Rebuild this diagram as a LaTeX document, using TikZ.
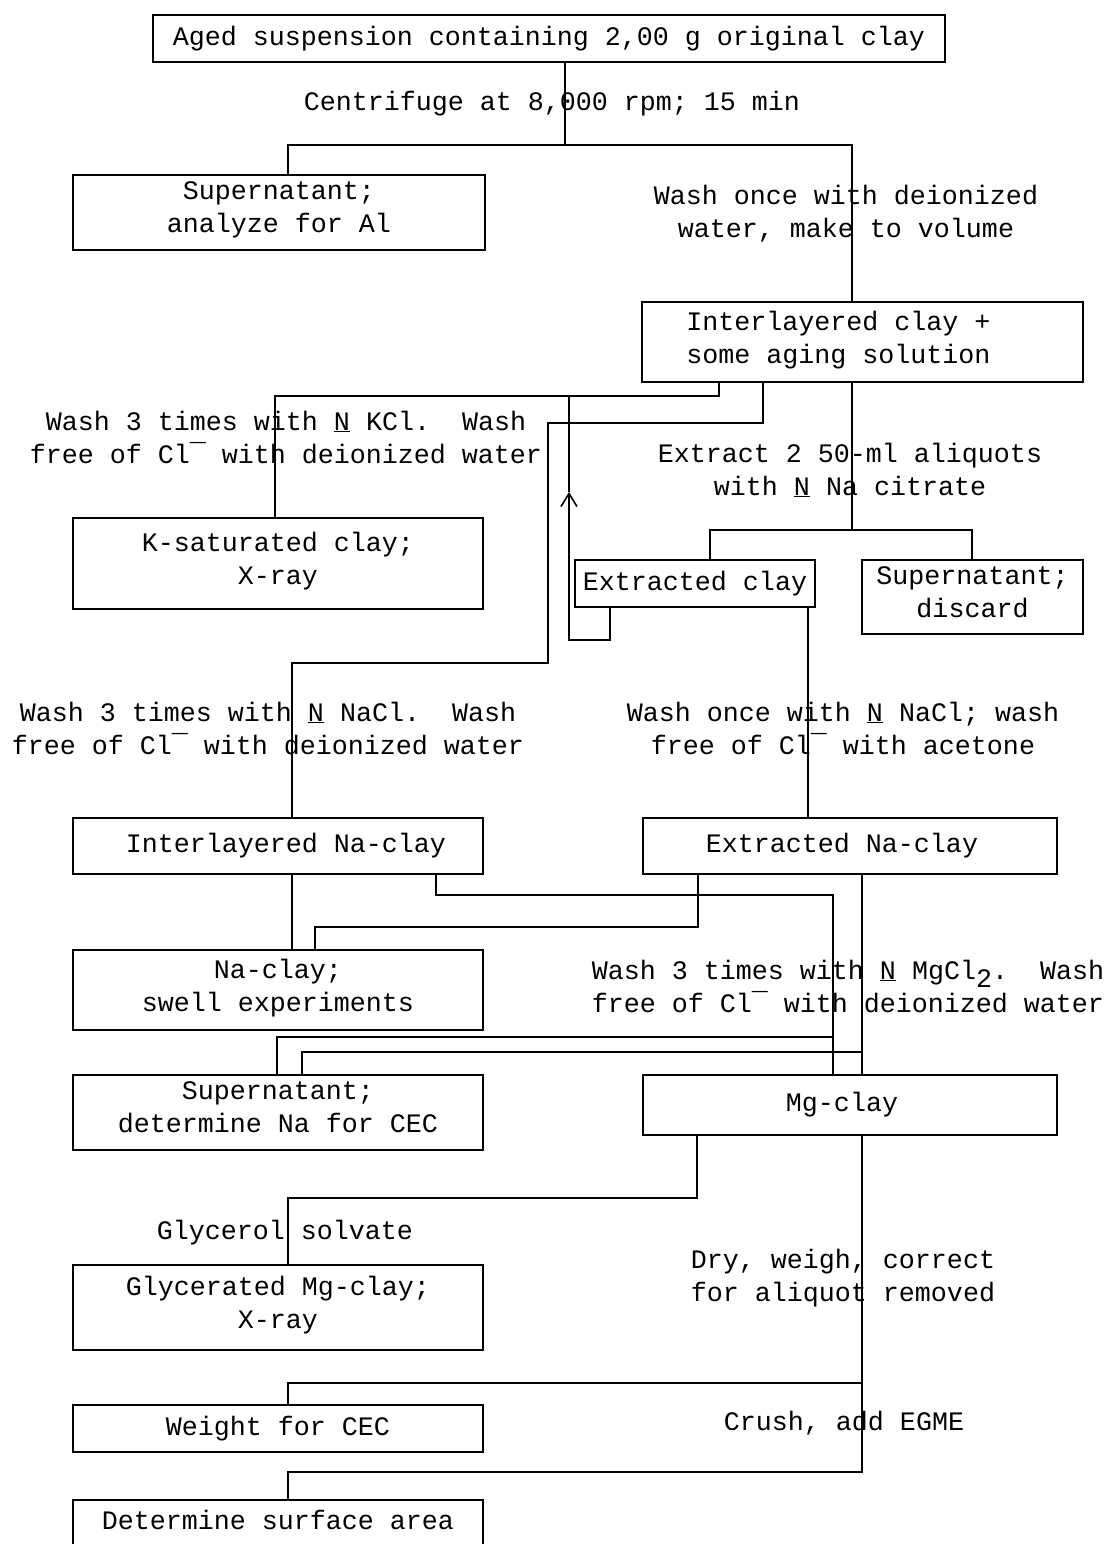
\documentclass[tikz,border=0pt]{standalone}
\usepackage{fontspec}
\newfontfamily\tw{Liberation Mono}
\usetikzlibrary{arrows.meta}
\tikzset{
  tfont/.style={font=\tw\fontsize{26.67pt}{33pt}\selectfont\frenchspacing},
  lbl/.style={tfont, inner sep=0pt, align=center,
    execute at begin node=\strut, execute at end node=\strut},
  bx/.style n args={2}{lbl, draw, line width=1.6pt,
    minimum width=#1pt, minimum height=#2pt},
  link/.style={line width=1.6pt},
}
\begin{document}
\begin{tikzpicture}[x=1pt,y=-1pt]
\useasboundingbox (0,0) rectangle (1113,1544);
\fill[white] (0,0) rectangle (1113,1544);
\clip (0,0) rectangle (1113,1544);

% boxes and labels
\node[bx={792}{47}] (b1) at (549,38.5) {Aged suspension containing 2,00 g original clay};
\node[lbl] (l1) at (552,104) {Centrifuge at 8,000 rpm; 15 min};
\node[bx={412}{75}] (b2) at (279,212.5) {Supernatant;\\analyze for Al};
\node[lbl] (l2) at (846,216) {Wash once with deionized\\water, make to volume};
\node[bx={441}{80}] (b3) at (862.5,342) {Interlayered clay +\hphantom{xxx}\\some aging solution\hphantom{xxx}};
\node[lbl] (l3) at (286,442) {Wash 3 times with \underline{N} KCl.~~Wash\\free of Cl¯ with deionized water};
\node[bx={410}{91}] (ks) at (278,563.5) {K-saturated clay;\\X-ray};
\node[lbl] (l4) at (850,474) {Extract 2 50-ml aliquots\\with \underline{N} Na citrate};
\node[bx={240}{47}] (ec) at (695,583.5) {Extracted clay};
\node[bx={221}{74}] (sd) at (972.5,597) {Supernatant;\\discard};
\node[lbl] (l5) at (268,733) {Wash 3 times with \underline{N} NaCl.~~Wash\\free of Cl¯ with deionized water};
\node[lbl] (l6) at (843,733) {Wash once with \underline{N} NaCl; wash\\free of Cl¯ with acetone};
\node[bx={410}{56}] (ina) at (278,846) {\hphantom{x}Interlayered Na-clay};
\node[bx={414}{56}] (ena) at (850,846) {Extracted Na-clay\hphantom{x}};
\node[bx={410}{80}] (nac) at (278,990) {Na-clay;\\swell experiments};
\node[lbl] (l7) at (848,991) {Wash 3 times with \underline{N} MgCl\raisebox{-8pt}{2}.~~Wash\\free of Cl¯ with deionized water};
\node[bx={410}{75}] (sna) at (278,1112.5) {Supernatant;\\determine Na for CEC};
\node[bx={414}{60}] (mg) at (850,1105) {Mg-clay\hphantom{x}};
\node[lbl] (l9) at (285,1233) {Glycerol solvate};
\node[lbl] (l8) at (843,1280) {Dry, weigh, correct\\for aliquot removed};
\node[bx={410}{85}] (gly) at (278,1307.5) {Glycerated Mg-clay;\\X-ray};
\node[bx={410}{47}] (wc) at (278,1428.5) {Weight for CEC};
\node[lbl] (l10) at (844,1424) {Crush, add EGME};
\node[bx={410}{46}] (ds) at (278,1523) {Determine surface area};

% junction points on lines
\coordinate (t1) at (833,1037);
\coordinate (t2) at (862,1052);
\coordinate (t3) at (862,1383);
\coordinate (t4) at (569,396);
\coordinate (tip) at (569,492);

% connectors
\draw[link] (565,0 |- b1.south) -- (565,145);
\draw[link] (288,0 |- b2.north) |- (852,145) -- (852,0 |- b3.north);
\draw[link] (719,0 |- b3.south) |- (275,396) -- (275,0 |- ks.north);
\draw[link] (763,0 |- b3.south) |- (548,423) -- (548,663) -| (292,0 |- ina.north);
\draw[link,-{Straight Barb[length=13pt,width=16pt]}] (610,0 |- ec.south) |- (569,640) -- (tip);
\draw[link] (tip) -- (t4);
\draw[link] (852,0 |- b3.south) -- (852,530);
\draw[link] (710,0 |- ec.north) |- (972,530) -- (972,0 |- sd.north);
\draw[link] (808,0 |- ec.south) -- (808,0 |- ena.north);
\draw[link] (292,0 |- ina.south) -- (292,0 |- nac.north);
\draw[link] (436,0 |- ina.south) |- (833,895) -- (833,0 |- mg.north);
\draw[link] (698,0 |- ena.south) |- (315,927) -- (315,0 |- nac.north);
\draw[link] (862,0 |- ena.south) -- (862,0 |- mg.north);
\draw[link] (t1) -| (277,0 |- sna.north);
\draw[link] (t2) -| (302,0 |- sna.north);
\draw[link] (697,0 |- mg.south) |- (288,1198) -- (288,0 |- gly.north);
\draw[link] (862,0 |- mg.south) |- (288,1472) -- (288,0 |- ds.north);
\draw[link] (t3) -| (288,0 |- wc.north);
\end{tikzpicture}
\end{document}
